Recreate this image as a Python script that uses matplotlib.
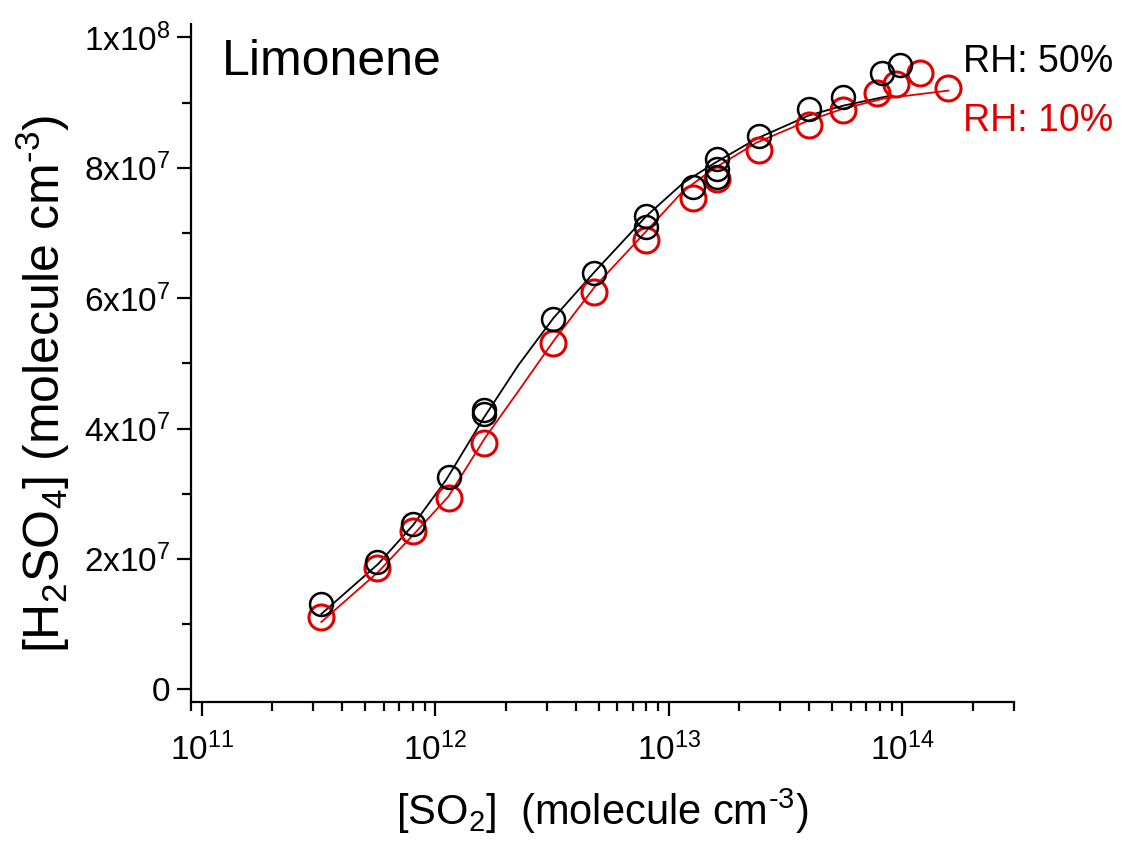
import math
import matplotlib
matplotlib.use("Agg")
import matplotlib.pyplot as plt
from matplotlib.ticker import LogLocator, MultipleLocator, FuncFormatter

plt.rcParams['font.family'] = ['Liberation Sans', 'DejaVu Sans']
plt.rcParams['mathtext.fontset'] = 'custom'
plt.rcParams['mathtext.rm'] = 'Liberation Sans'
plt.rcParams['mathtext.it'] = 'Liberation Sans'
plt.rcParams['mathtext.default'] = 'regular'

# RH 50% (черные точки)
so2_50 = [3.25e11, 5.65e11, 8.05e11, 1.14e12, 1.62e12, 1.62e12, 3.2e12, 4.79e12,
          8.0e12, 8.0e12, 1.27e13, 1.6e13, 1.6e13, 1.6e13, 2.42e13, 3.98e13,
          5.58e13, 8.2e13, 9.8e13]
h2so4_50 = [1.30e7, 1.95e7, 2.54e7, 3.25e7, 4.28e7, 4.22e7, 5.68e7, 6.38e7,
            7.26e7, 7.09e7, 7.71e7, 8.14e7, 7.98e7, 7.86e7, 8.49e7, 8.91e7,
            9.09e7, 9.46e7, 9.58e7]

# RH 10% (красные точки)
so2_10 = [3.25e11, 5.65e11, 8.05e11, 1.14e12, 1.62e12, 3.2e12, 4.79e12, 8.0e12,
          1.27e13, 1.6e13, 2.42e13, 3.98e13, 5.58e13, 7.75e13, 9.4e13, 1.19e14,
          1.57e14]
h2so4_10 = [1.11e7, 1.86e7, 2.42e7, 2.94e7, 3.78e7, 5.31e7, 6.09e7, 6.89e7,
            7.54e7, 7.83e7, 8.28e7, 8.66e7, 8.88e7, 9.15e7, 9.29e7, 9.45e7,
            9.22e7]

# Кривые аппроксимации
fit50_x = [3.25e11, 5.70e11, 8.05e11, 1.114e12, 1.606e12, 2.265e12, 3.20e12,
           4.84e12, 8.02e12, 1.153e13, 1.552e13, 2.37e13, 3.95e13, 5.58e13, 8.89e13]
fit50_y = [1.154e7, 1.923e7, 2.523e7, 3.215e7, 4.154e7, 4.969e7, 5.692e7,
           6.415e7, 7.262e7, 7.769e7, 8.062e7, 8.446e7, 8.80e7, 8.954e7, 9.108e7]
fit10_x = [3.25e11, 5.70e11, 8.05e11, 1.137e12, 1.637e12, 2.265e12, 3.20e12,
           4.84e12, 8.02e12, 1.153e13, 1.552e13, 2.37e13, 3.95e13, 5.58e13,
           8.30e13, 1.574e14]
fit10_y = [1.031e7, 1.80e7, 2.369e7, 2.954e7, 3.862e7, 4.57e7, 5.338e7,
           6.185e7, 7.031e7, 7.646e7, 7.985e7, 8.385e7, 8.723e7, 8.908e7,
           9.062e7, 9.185e7]

y_ticks = [0, 2e7, 4e7, 6e7, 8e7, 1e8]
y_labels = ['0', '2x10$^7$', '4x10$^7$', '6x10$^7$', '8x10$^7$', '1x10$^8$']

red = '#e00000'

fig = plt.figure(figsize=(11.24, 8.43), dpi=100)
ax = fig.add_axes([0.170, 0.167, 0.732, 0.804])

ax.plot(fit50_x, fit50_y, '-', color='black', linewidth=1.3, zorder=2)
ax.plot(fit10_x, fit10_y, '-', color=red, linewidth=1.3, zorder=2)
ax.plot(so2_10, h2so4_10, 'o', markersize=18, markerfacecolor='none',
        markeredgecolor=red, markeredgewidth=2.2, zorder=3)
ax.plot(so2_50, h2so4_50, 'o', markersize=16.5, markerfacecolor='none',
        markeredgecolor='black', markeredgewidth=1.8, zorder=4)

ax.set_xscale('log')
ax.set_xlim(9e10, 3e14)
ax.set_ylim(-2e6, 1.02e8)

ax.spines['top'].set_visible(False)
ax.spines['right'].set_visible(False)
for s in ['left', 'bottom']:
    ax.spines[s].set_linewidth(1.6)

ax.xaxis.set_major_locator(LogLocator(base=10, numticks=10))
ax.xaxis.set_minor_locator(LogLocator(base=10, subs=range(2, 10), numticks=10))
ax.xaxis.set_major_formatter(FuncFormatter(lambda v, p: '10$^{%d}$' % round(math.log10(v))))
ax.set_yticks(y_ticks)
ax.set_yticklabels(y_labels)
ax.yaxis.set_minor_locator(MultipleLocator(1e7))

ax.tick_params(which='major', direction='out', length=10, width=1.6, pad=5)
ax.tick_params(which='minor', direction='out', length=6.5, width=1.6)
ax.tick_params(axis='x', which='major', labelsize=24, pad=12)
ax.tick_params(axis='y', which='major', labelsize=24)

ax.set_xlabel('[SO$_2$]  (molecule cm$^{\\text{-}3}$)', fontsize=30, labelpad=14)
ax.set_ylabel('[H$_2$SO$_4$] (molecule cm$^{\\text{-}3}$)', fontsize=36)
ax.yaxis.set_label_coords(-0.145, 0.47)

ax.text(0.038, 0.945, 'Limonene', transform=ax.transAxes, fontsize=36,
        ha='left', va='center')
fig.text(0.857, 0.926, 'RH: 50%', fontsize=27, color='black', ha='left', va='center')
fig.text(0.857, 0.857, 'RH: 10%', fontsize=27, color=red, ha='left', va='center')

plt.savefig('out.png', dpi=100)
